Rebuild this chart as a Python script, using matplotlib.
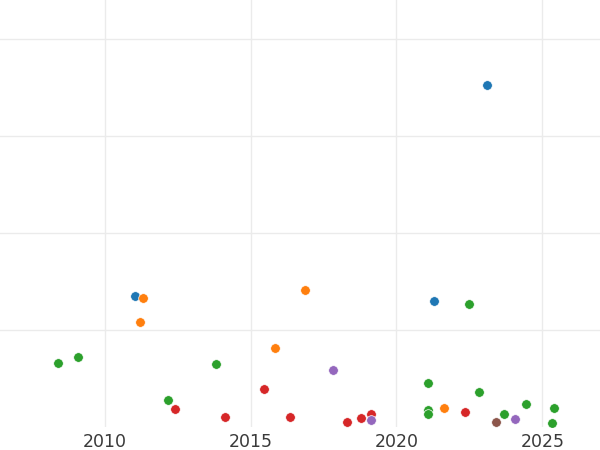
import matplotlib

matplotlib.use("Agg")
import matplotlib.pyplot as plt

# year, value pairs per colour group (hue order as drawn)
blue_x = [2011.05, 2021.28, 2023.11]
blue_y = [13.5, 13.0, 35.2]
orange_x = [2011.33, 2011.21, 2015.83, 2016.86, 2021.63]
orange_y = [13.3, 10.8, 8.14, 14.15, 1.99]
green_x = [2008.40, 2009.08, 2013.81, 2012.17, 2021.07, 2021.09, 2021.09,
           2022.50, 2022.81, 2023.67, 2024.42, 2025.38, 2025.33]
green_y = [6.63, 7.25, 6.53, 2.75, 4.5, 1.72, 1.31,
           12.65, 3.64, 1.31, 2.40, 1.93, 0.41]
red_x = [2012.42, 2014.12, 2015.45, 2016.34, 2018.31, 2018.79, 2019.11, 2022.33]
red_y = [1.82, 1.06, 3.92, 1.06, 0.48, 0.93, 1.37, 1.58]
purple_x = [2017.81, 2019.11, 2024.07]
purple_y = [5.88, 0.75, 0.79]
brown_x = [2023.42]
brown_y = [0.55]

XTICKS = [2010, 2015, 2020, 2025]
YGRID = [10, 20, 30, 40]

groups = [
    (blue_x, blue_y, "#1f77b4"),
    (orange_x, orange_y, "#ff7f0e"),
    (green_x, green_y, "#2ca02c"),
    (red_x, red_y, "#d62728"),
    (purple_x, purple_y, "#9467bd"),
    (brown_x, brown_y, "#8c564b"),
]

fig = plt.figure(figsize=(6, 4.5), dpi=100)
ax = fig.add_axes([0, 23 / 450, 1, 427 / 450])

for xs, ys, c in groups:
    ax.scatter(xs, ys, s=48, color=c, edgecolor="white", linewidth=0.5, zorder=3)

ax.set_xlim(2006.42, 2026.97)
ax.set_ylim(0, 44)
ax.set_xticks(XTICKS)
ax.set_yticks(YGRID)
ax.set_yticklabels([])
ax.tick_params(length=0, labelsize=12.5, labelcolor="#3a3a3a", pad=4.5)
ax.tick_params(axis="y", left=False)
ax.grid(True, color="#ebebeb", linewidth=1.0, zorder=0)
ax.set_axisbelow(True)
for sp in ax.spines.values():
    sp.set_visible(False)

fig.savefig("out.png", dpi=100)
